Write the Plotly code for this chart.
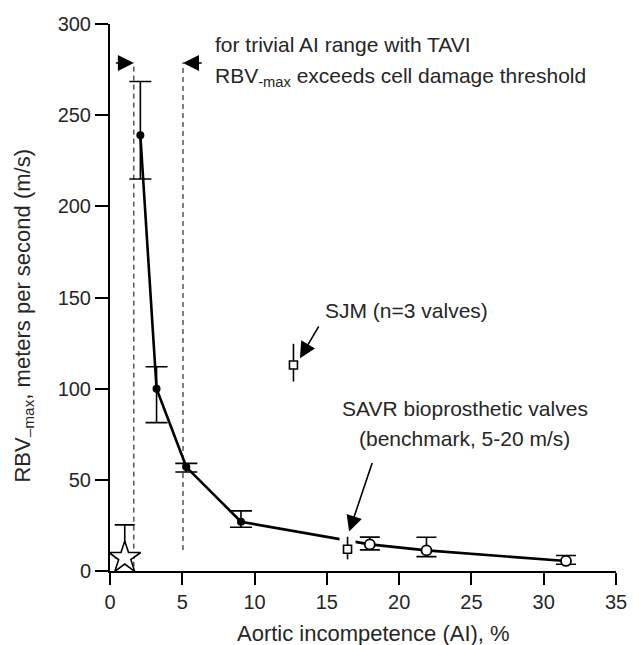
import plotly.graph_objects as go

# ---- data ----
ai_filled = [2.1, 3.22, 5.28, 9.06]
rbv_filled = [239, 100, 57, 27]
err_up_filled = [29.5, 12, 2, 6]
err_dn_filled = [24, 18.6, 2.7, 3]

ai_open = [17.97, 21.89, 31.54]
rbv_open = [14.6, 11.3, 5.5]
err_up_open = [4, 7.2, 3]
err_dn_open = [3, 3.4, 1.8]

sjm_ai = [12.69]
sjm_rbv = [113]
sjm_up = [11.6]
sjm_dn = [9.1]

savr_ai = [16.43]
savr_rbv = [11.9]
savr_up = [6.9]
savr_dn = [5.5]

star_ai = [1.02]
star_rbv = [7.3]
star_up = [18]

threshold_x = [1.65, 5.05]
threshold_ybot = [2.4, 11.5]
threshold_ytop = 279

xticks = [0, 5, 10, 15, 20, 25, 30, 35]
yticks = [0, 50, 100, 150, 200, 250, 300]

FONT = "Liberation Sans, Arial, Helvetica, sans-serif"
TXT = "#262626"

W, H = 639, 645
L, R, T, B = 110, 14, 24, 74
pw, ph = W - L - R, H - T - B

fig = go.Figure()

# connecting line
fig.add_trace(go.Scatter(
    x=ai_filled + ai_open, y=rbv_filled + rbv_open, mode="lines",
    line=dict(color="black", width=2.6), hoverinfo="skip", showlegend=False,
    cliponaxis=False))

# white knock-out behind the SAVR error bar (breaks the curve as in the original)
fig.add_trace(go.Scatter(
    x=savr_ai, y=savr_rbv, mode="markers",
    marker=dict(size=1, color="rgba(0,0,0,0)"),
    error_y=dict(type="data", symmetric=False, array=savr_up,
                 arrayminus=savr_dn, width=0, thickness=16, color="white"),
    hoverinfo="skip", showlegend=False, cliponaxis=False))

# filled points
fig.add_trace(go.Scatter(
    x=ai_filled, y=rbv_filled, mode="markers",
    marker=dict(symbol="circle", size=8, color="black"),
    error_y=dict(type="data", symmetric=False, array=err_up_filled,
                 arrayminus=err_dn_filled, width=11, thickness=1.6, color="black"),
    showlegend=False, cliponaxis=False))

# open points
fig.add_trace(go.Scatter(
    x=ai_open, y=rbv_open, mode="markers",
    marker=dict(symbol="circle", size=10, color="white",
                line=dict(color="black", width=1.8)),
    error_y=dict(type="data", symmetric=False, array=err_up_open,
                 arrayminus=err_dn_open, width=10, thickness=1.6, color="black"),
    showlegend=False, cliponaxis=False))

# SJM square
fig.add_trace(go.Scatter(
    x=sjm_ai, y=sjm_rbv, mode="markers",
    marker=dict(symbol="square", size=8, color="white",
                line=dict(color="black", width=1.6)),
    error_y=dict(type="data", symmetric=False, array=sjm_up,
                 arrayminus=sjm_dn, width=0, thickness=1.6, color="black"),
    showlegend=False, cliponaxis=False))

# SAVR square
fig.add_trace(go.Scatter(
    x=savr_ai, y=savr_rbv, mode="markers",
    marker=dict(symbol="square", size=8, color="white",
                line=dict(color="black", width=1.6)),
    error_y=dict(type="data", symmetric=False, array=savr_up,
                 arrayminus=savr_dn, width=0, thickness=1.6, color="black"),
    showlegend=False, cliponaxis=False))

# star
fig.add_trace(go.Scatter(
    x=star_ai, y=star_rbv, mode="markers",
    marker=dict(symbol="star", size=24, color="white",
                line=dict(color="black", width=1.6)),
    error_y=dict(type="data", symmetric=False, array=star_up,
                 arrayminus=[0], width=10, thickness=1.6, color="black"),
    showlegend=False, cliponaxis=False))

# dashed threshold lines
for xv, yb in zip(threshold_x, threshold_ybot):
    fig.add_shape(type="line", x0=xv, x1=xv, y0=yb, y1=threshold_ytop,
                  xref="x", yref="y",
                  line=dict(color="black", width=1, dash="5px,4px"), layer="below")

ARW = dict(showarrow=True, arrowhead=2, arrowsize=2.0, arrowwidth=1.6,
           arrowcolor="black", text="", xref="x", yref="y", axref="x", ayref="y")

# arrows pointing at the dashed lines
fig.add_annotation(x=threshold_x[0], y=278.6, ax=0.3, ay=278.6, **ARW)
fig.add_annotation(x=threshold_x[1], y=278.6, ax=6.45, ay=278.6, **ARW)

# text annotations
fig.add_annotation(x=7.14, y=288.7, xref="x", yref="y", text="for trivial AI range with TAVI",
                   showarrow=False, xanchor="left", yanchor="middle",
                   font=dict(family=FONT, size=21, color=TXT))
fig.add_annotation(x=7.14, y=271.1, xref="x", yref="y",
                   text="RBV<sub>-max</sub> exceeds cell damage threshold",
                   showarrow=False, xanchor="left", yanchor="middle",
                   font=dict(family=FONT, size=21, color=TXT))
fig.add_annotation(x=14.73, y=143, xref="x", yref="y", text="SJM (n=3 valves)",
                   showarrow=False, xanchor="left", yanchor="middle",
                   font=dict(family=FONT, size=21, color=TXT))
fig.add_annotation(x=24.55, y=88.9, xref="x", yref="y", text="SAVR bioprosthetic valves",
                   showarrow=False, xanchor="center", yanchor="middle",
                   font=dict(family=FONT, size=21, color=TXT))
fig.add_annotation(x=24.55, y=72.8, xref="x", yref="y", text="(benchmark, 5-20 m/s)",
                   showarrow=False, xanchor="center", yanchor="middle",
                   font=dict(family=FONT, size=21, color=TXT))

# pointer arrows
fig.add_annotation(x=13.14, y=116.7, ax=14.5, ay=135, **ARW)
fig.add_annotation(x=16.54, y=21.6, ax=18.17, ay=60, **ARW)

# axis titles as annotations (paper coords computed from pixel targets)
fig.add_annotation(x=(378 - L) / pw, y=(H - B - 633) / ph, xref="paper", yref="paper",
                   text="Aortic incompetence (AI), %",
                   showarrow=False, xanchor="center", yanchor="middle",
                   font=dict(family=FONT, size=22, color=TXT))
fig.add_annotation(x=(22 - L) / pw, y=(H - B - 316) / ph, xref="paper", yref="paper",
                   text="RBV<sub>\u2013max</sub>, meters per second (m/s)",
                   textangle=-90, showarrow=False, xanchor="center", yanchor="middle",
                   font=dict(family=FONT, size=22, color=TXT))

fig.update_layout(
    width=W, height=H, margin=dict(l=L, r=R, t=T, b=B),
    paper_bgcolor="white", plot_bgcolor="white",
    font=dict(family=FONT, color=TXT),
    xaxis=dict(range=[0, 35], tickvals=xticks, ticks="outside", ticklen=12,
               tickwidth=2, tickcolor="black", showline=True, linecolor="black",
               linewidth=2, showgrid=False, zeroline=False,
               tickfont=dict(family=FONT, size=20, color=TXT)),
    yaxis=dict(range=[0, 300], tickvals=yticks, ticks="outside", ticklen=13,
               tickwidth=2, tickcolor="black", showline=True, linecolor="black",
               linewidth=2, showgrid=False, zeroline=False,
               tickfont=dict(family=FONT, size=20, color=TXT)),
)

fig.write_html("out.html", config={"displayModeBar": False},
               post_script="document.body.style.margin='0';document.body.style.overflow='hidden';")
